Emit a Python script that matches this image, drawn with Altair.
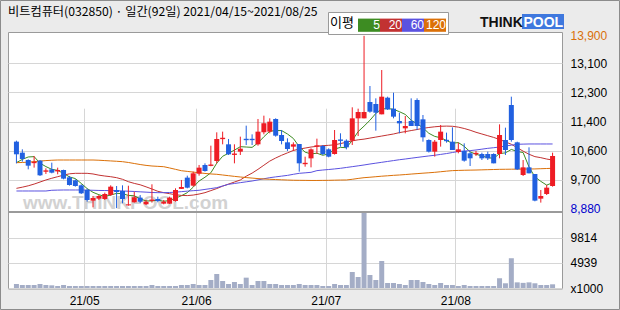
import altair as alt
import pandas as pd

# ---------------- data ----------------
title_text = "비트컴퓨터(032850) · 일간(92일) 2021/04/15~2021/08/25"
month_labels = ["21/05", "21/06", "21/07", "21/08"]
month_trading_days = [12, 19, 22, 22, 17]   # Apr(15~), May, Jun, Jul, Aug(~25)
logo_parts = ["THINK", "POOL"]
watermark_text = "www.THINKPOOL.com"

opens = [10817, 10496, 10282, 10190, 10263, 9940, 10010, 9950, 9991, 9777,
         9690, 9544, 9408, 9097, 9156, 9146, 9263, 9408, 9379, 8960,
         9050, 9184, 8992, 9090, 9146, 9010, 9010, 9088, 9440, 9768,
         9535, 9884, 10137, 10110, 10253, 10890, 10739, 10430, 10525, 10900,
         10900, 10739, 11088, 11108, 11477, 11011, 10797, 10671, 10748, 10160,
         10330, 10670, 10690, 10593, 10457, 10880, 10845, 10845, 11496, 11496,
         11972, 11914, 11613, 12098, 11778, 11418, 11205, 11418, 12030, 11467,
         10865, 10525, 10865, 10870, 10816, 10516, 10545, 10477, 10450, 10457,
         10457, 10457, 10457, 10865, 11885, 10797, 9845, 10068, 9874, 9156,
         9291, 9525]
highs = [10846, 10593, 10300, 10399, 10282, 10040, 10205, 10059, 10000, 9816,
         9719, 9573, 9447, 9233, 9263, 9331, 9544, 9524, 9544, 9533,
         9359, 9263, 9117, 9574, 9213, 9117, 9214, 9457, 9700, 9826,
         9943, 10137, 10185, 10700, 11088, 11108, 10894, 10739, 10962, 11283,
         11030, 11477, 11574, 11497, 11497, 11157, 10914, 10797, 10748, 10379,
         10622, 10904, 10719, 10622, 11156, 11060, 10884, 11817, 11778, 13900,
         12438, 12079, 12904, 12127, 12244, 11661, 11564, 12079, 12079, 11593,
         10884, 10865, 11302, 11079, 11234, 10787, 10768, 10525, 10545, 10496,
         10525, 10477, 11321, 11224, 12127, 10816, 10282, 10651, 9874, 9408,
         9554, 10496]
lows = [10185, 10234, 10010, 10059, 9816, 9875, 9894, 9865, 9719, 9535,
        9506, 9292, 9068, 8903, 9117, 9117, 9234, 8880, 9020, 8950,
        9040, 9020, 8970, 9040, 9050, 8990, 9000, 9068, 9437, 9457,
        9505, 9826, 9943, 10100, 10185, 10739, 10428, 10185, 10428, 10719,
        10719, 10700, 11030, 11060, 10962, 10739, 10545, 10545, 9942, 10088,
        10068, 10457, 10427, 10360, 10440, 10670, 10593, 10720, 10981, 11496,
        11661, 11137, 11613, 11739, 11496, 11059, 11059, 11273, 11156, 10816,
        10500, 10380, 10671, 10787, 10574, 10477, 10234, 10107, 10399, 10282,
        10282, 10185, 10331, 10428, 10816, 9991, 9816, 9894, 9078, 9040,
        9262, 9505]
closes = [10448, 10312, 10117, 10230, 9836, 9980, 9913, 9990, 9739, 9554,
          9525, 9311, 9117, 9175, 9233, 9292, 9505, 9350, 9146, 8990,
          9196, 9067, 9067, 9130, 9088, 9068, 9185, 9408, 9496, 9476,
          9894, 10059, 9962, 10150, 10894, 10930, 10447, 10470, 10612, 10860,
          10860, 11108, 11351, 11399, 10991, 10836, 10603, 10739, 10185, 10200,
          10593, 10710, 10457, 10379, 10865, 10840, 10651, 11496, 11680, 11680,
          11690, 11661, 12127, 11758, 11545, 11350, 11273, 11273, 11273, 10943,
          10525, 10816, 11108, 10830, 10574, 10593, 10263, 10331, 10490, 10331,
          10331, 10185, 11011, 10574, 10865, 10010, 10068, 9894, 9098, 9233,
          9476, 10399]
volumes = [780, 585, 585, 585, 780, 585, 520, 390, 585, 390,
           390, 390, 390, 390, 390, 390, 390, 390, 390, 390,
           390, 390, 390, 585, 390, 390, 390, 390, 585, 585,
           780, 585, 585, 1560, 2730, 1365, 780, 1170, 780, 2015,
           585, 1365, 1365, 780, 780, 585, 585, 585, 780, 585,
           585, 585, 390, 390, 780, 585, 585, 3120, 2145, 14750,
           2535, 1560, 5265, 975, 975, 780, 585, 1560, 1560, 1170,
           780, 585, 975, 585, 585, 390, 585, 390, 390, 390,
           390, 390, 1900, 920, 5800, 1100, 1000, 1100, 920, 585,
           585, 720]

ma5 = [10205, 10300, 10370, 10380, 10190, 10090, 10010, 9980, 9890, 9790,
       9740, 9600, 9450, 9340, 9270, 9220, 9260, 9310, 9300, 9250,
       9240, 9150, 9090, 9090, 9110, 9080, 9100, 9170, 9240, 9330,
       9490, 9670, 9780, 9910, 10190, 10390, 10480, 10570, 10670, 10660,
       10650, 10780, 10960, 11120, 11140, 11140, 11040, 10910, 10670, 10510,
       10460, 10480, 10420, 10460, 10600, 10650, 10640, 10850, 11110, 11270,
       11440, 11640, 11770, 11780, 11760, 11690, 11610, 11440, 11340, 11220,
       11060, 10970, 10930, 10850, 10770, 10790, 10680, 10520, 10450, 10400,
       10350, 10330, 10470, 10490, 10590, 10530, 10500, 10080, 9790, 9660,
       9550, 9620]
ma20 = [9456, 9490, 9530, 9580, 9640, 9700, 9750, 9796, 9840, 9880,
        9894, 9894, 9894, 9875, 9840, 9815, 9795, 9767, 9720, 9650,
        9600, 9560, 9500, 9437, 9370, 9330, 9300, 9270, 9250, 9245,
        9260, 9290, 9330, 9390, 9450, 9520, 9580, 9640, 9700, 9810,
        9900, 10010, 10130, 10250, 10340, 10420, 10490, 10560, 10600, 10630,
        10660, 10680, 10700, 10710, 10725, 10760, 10800, 10840, 10870, 10890,
        10920, 10950, 10980, 11010, 11040, 11080, 11110, 11140, 11170, 11205,
        11230, 11250, 11265, 11270, 11265, 11240, 11200, 11150, 11090, 11040,
        10990, 10940, 10880, 10810, 10740, 10640, 10540, 10450, 10380, 10350,
        10310, 10280]
ma60 = [9379, 9379, 9379, 9379, 9379, 9379, 9400, 9405, 9408, 9408,
        9408, 9408, 9405, 9400, 9395, 9392, 9390, 9388, 9380, 9372,
        9365, 9355, 9345, 9335, 9330, 9330, 9335, 9345, 9360, 9375,
        9388, 9400, 9425, 9450, 9476, 9525, 9574, 9598, 9622, 9646,
        9670, 9702, 9735, 9767, 9790, 9812, 9834, 9865, 9894, 9908,
        9923, 9972, 9990, 10005, 10022, 10040, 10064, 10088, 10112, 10137,
        10165, 10190, 10215, 10240, 10265, 10290, 10311, 10334, 10357, 10379,
        10400, 10420, 10445, 10470, 10500, 10530, 10545, 10555, 10574, 10598,
        10622, 10640, 10660, 10690, 10715, 10740, 10745, 10749, 10749, 10749,
        10749, 10749]
ma120 = [10204, 10210, 10220, 10235, 10250, 10265, 10275, 10282, 10282, 10282,
         10282, 10282, 10282, 10282, 10275, 10265, 10255, 10245, 10233, 10210,
         10180, 10150, 10125, 10107, 10097, 10087, 10050, 10010, 9970, 9950,
         9930, 9910, 9890, 9875, 9865, 9845, 9825, 9805, 9787, 9770,
         9755, 9740, 9729, 9720, 9712, 9705, 9698, 9692, 9690, 9688,
         9686, 9686, 9688, 9690, 9694, 9698, 9700, 9720, 9745, 9767,
         9780, 9795, 9810, 9822, 9835, 9845, 9858, 9872, 9885, 9898,
         9910, 9923, 9940, 9957, 9972, 9978, 9983, 9987, 9990, 9995,
         10000, 10005, 10010, 10012, 10014, 10016, 10018, 10020, 10022, 10028,
         10034, 10040]

ma_names = ["5", "20", "60", "120"]
ma_colors = ["#3d8c22", "#c23232", "#5b52e0", "#db7008"]

price_ticks = [8880, 9700, 10550, 11400, 12250, 13100, 13900]
price_tick_labels = ["8,880", "9,700", "10,600", "11,400", "12,300", "13,100", "13,900"]
price_min, price_max = 8880, 13900
volume_ticks = [0, 4939, 9814]
volume_tick_labels = ["x1000", "4939", "9814"]

# ---------------- tables ----------------
n = len(closes)
idx = list(range(n))
candles = pd.DataFrame({"i": idx, "open": opens, "high": highs, "low": lows,
                        "close": closes, "volume": volumes})
ma_df = pd.DataFrame({
    "i": idx * 4,
    "ma": [name for name in ma_names for _ in range(n)],
    "value": ma5 + ma20 + ma60 + ma120,
})

starts = []
acc = 0
for d in month_trading_days[:-1]:
    acc += d
    starts.append(acc - 0.5)

RED = "#ee1c24"
BLUE = "#2160e0"
KFONT = "Noto Sans CJK KR"
NFONT = "Liberation Sans"

x_scale = alt.Scale(domain=[-0.5833, 91.75], nice=False, zero=False)
price_scale = alt.Scale(domain=[8758, 14012], range=[180.3, 0], nice=False, zero=False)
vol_max = 14750
vol_scale = alt.Scale(domain=[0, vol_max], range=[256.0, 180.3], nice=False)
ma_color_scale = alt.Scale(domain=ma_names, range=ma_colors)

def js_list(vals):
    return "[" + ",".join(repr(v) for v in vals) + "]"

x_axis = alt.Axis(
    values=starts,
    labelExpr=f"{js_list(month_labels)}[indexof({js_list(starts)}, datum.value)]",
    grid=True, gridColor="#d6d6d6", ticks=False, domain=False,
    labelPadding=7, labelFontSize=12, labelFont=NFONT, labelColor="black", title=None,
)
price_axis = alt.Axis(
    orient="right", values=price_ticks,
    labelExpr=f"{js_list(price_tick_labels)}[indexof({js_list(price_ticks)}, datum.value)]",
    grid=True, gridColor="#d6d6d6",
    gridOpacity={"condition": {"test": f"datum.value == {price_min} || datum.value == {price_max}", "value": 0}, "value": 1},
    labelColor={"condition": [
        {"test": f"datum.value == {price_max}", "value": "#d9700a"},
        {"test": f"datum.value == {price_min}", "value": "#0000cd"}], "value": "black"},
    ticks=False, domain=False, labelPadding=8, labelFontSize=12, labelFont=NFONT, title=None,
)
vol_axis = alt.Axis(
    orient="right", values=volume_ticks,
    labelExpr=f"{js_list(volume_tick_labels)}[indexof({js_list(volume_ticks)}, datum.value)]",
    grid=True, gridColor="#d6d6d6", ticks=False, domain=False, labelPadding=8,
    labelFontSize=12, labelFont=NFONT, labelColor="black", title=None,
)

candle_color = alt.condition("datum.close >= datum.open", alt.value(RED), alt.value(BLUE))

# outer frame, watermark + logo (decorative)
frame = alt.Chart(pd.DataFrame({"t": [0]})).mark_rect(
    fill=None, stroke="#8c8c8c", strokeWidth=1).encode(
    x=alt.value(-7.5), x2=alt.value(611.5), y=alt.value(-31.5), y2=alt.value(277.5))

watermark = alt.Chart(pd.DataFrame({"t": [watermark_text]})).mark_text(
    align="left", baseline="alphabetic", font=NFONT, fontSize=19, fontWeight="bold",
    color="#d2d2d2",
).encode(text="t:N", x=alt.value(15), y=alt.value(177))

logo_box = alt.Chart(pd.DataFrame({"t": [logo_parts[1]]})).mark_rect(color="#3f78de").encode(
    x=alt.value(514), x2=alt.value(556), y=alt.value(-18), y2=alt.value(-3))
logo_think = alt.Chart(pd.DataFrame({"t": [logo_parts[0]]})).mark_text(
    align="left", baseline="alphabetic", font=NFONT, fontSize=14,
    fontWeight="bold", color="#111111",
).encode(text="t:N", x=alt.value(472), y=alt.value(-5))
logo_pool = alt.Chart(pd.DataFrame({"t": [logo_parts[1]]})).mark_text(
    align="left", baseline="alphabetic", font=NFONT, fontSize=14,
    fontWeight="bold", color="white",
).encode(text="t:N", x=alt.value(515.5), y=alt.value(-5))

# price axis lives on the first layer; the others keep the default (merged) axis
base_price = alt.Chart(candles).mark_rule(opacity=0).encode(
    x=alt.X("i:Q", scale=x_scale, axis=x_axis),
    y=alt.Y("high:Q", scale=price_scale, axis=price_axis),
)

# one line per moving average
ma_lines = [
    alt.Chart(ma_df).transform_filter(alt.datum.ma == name).mark_line(
        color=col, strokeWidth=1).encode(
        x=alt.X("i:Q", scale=x_scale),
        y=alt.Y("value:Q", scale=price_scale),
    )
    for name, col in zip(ma_names, ma_colors)
]
# carrier of the MA legend (filled symbols, invisible marks)
ma_legend = alt.Chart(ma_df).mark_square(opacity=0).encode(
    x=alt.X("i:Q", scale=x_scale),
    y=alt.Y("value:Q", scale=price_scale),
    fill=alt.Fill("ma:N", scale=ma_color_scale, legend=alt.Legend(
        orient="none", legendX=320, legendY=-20, direction="horizontal",
        columns=4, title="이평", titleOrient="left", titleAnchor="middle",
        titleBaseline="middle", titleFont=KFONT, titleFontSize=13,
        titleFontWeight="normal", titleColor="black", titlePadding=4,
        symbolType="M-1,-0.6H1V0.6H-1Z", symbolSize=484, symbolStrokeWidth=0,
        symbolOpacity=1, labelColor="white", labelFont=NFONT, labelFontSize=12,
        labelAlign="right", labelBaseline="middle", labelOffset=0,
        columnPadding=0, rowPadding=0, padding=2, strokeColor="#9a9a9a",
        fillColor="white")),
)
wicks = alt.Chart(candles).mark_rule(strokeWidth=1).encode(
    x=alt.X("i:Q", scale=x_scale),
    y=alt.Y("low:Q", scale=price_scale),
    y2="high:Q",
    color=candle_color,
)
bodies = alt.Chart(candles).mark_bar(size=5).encode(
    x=alt.X("i:Q", scale=x_scale),
    y=alt.Y("open:Q", scale=price_scale),
    y2="close:Q",
    color=candle_color,
)
price_layer = alt.layer(base_price, frame, watermark, *ma_lines, ma_legend, wicks, bodies,
                        logo_box, logo_think, logo_pool)

vol_bars = alt.Chart(candles).mark_bar(size=5, color="#a4adc6").encode(
    x=alt.X("i:Q", scale=x_scale),
    y=alt.Y("volume:Q", scale=vol_scale, axis=vol_axis),
)
separator = alt.Chart(candles).mark_rule(color="#9a9a9a", strokeWidth=1).encode(
    y=alt.datum(vol_max),
)
vol_layer = alt.layer(vol_bars, separator)

chart = alt.layer(price_layer, vol_layer).resolve_scale(y="independent").properties(
    width=554, height=256.5,
    title=alt.TitleParams(text=title_text, anchor="start", frame="group", font=KFONT,
                          fontSize=12.2, fontWeight="normal", color="black",
                          offset={"expr": "-18"}),
    padding={"left": 8, "top": 32, "right": 58, "bottom": 21.5},
    autosize=alt.AutoSizeParams(type="none"),
).configure(background="#ebebeb").configure_view(fill="white", stroke="#9a9a9a", strokeWidth=1)

chart.save("out.html", embed_options={"renderer": "svg", "actions": False})
